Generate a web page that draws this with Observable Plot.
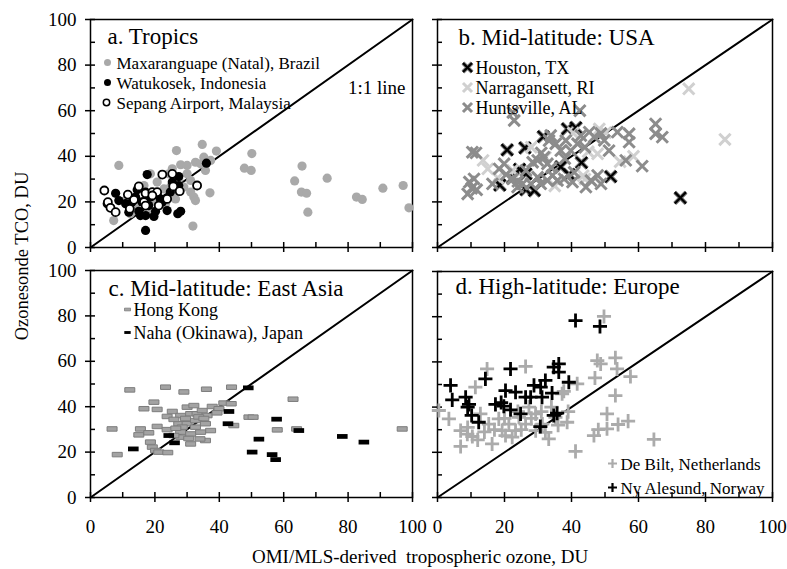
<!DOCTYPE html>
<html>
<head>
<meta charset="utf-8">
<script src="https://cdn.jsdelivr.net/npm/d3@7"></script>
<script src="https://cdn.jsdelivr.net/npm/@observablehq/plot@0.6"></script>
<style>
  body { margin: 0; background: #fff; }
  #fig { position: relative; width: 787px; height: 569px; background: #fff; }
  #fig svg { position: absolute; overflow: visible; }
</style>
</head>
<body>
<div id="fig"></div>
<script>
// Ozonesonde tropospheric column ozone vs OMI/MLS-derived values, DU: [omiMls, sonde]

// a. Tropics
const maxaranguape = [[8.8,36.0],[7.2,11.8],[26.7,42.5],[34.7,45.2],[39.1,42.3],[50.1,41.2],[47.8,34.8],[49.9,33.8],[65.7,35.7],[73.5,30.4],[63.4,29.2],[65.5,24.3],[67.1,23.8],[67.5,15.5],[82.6,22.1],[84.4,21.1],[90.8,26.0],[97.1,27.2],[98.9,17.4],[37.1,24.0],[31.8,9.4],[18.6,32.3],[25.4,34.5],[28.0,36.3],[30.0,36.0],[32.6,37.4],[34.2,36.7],[37.3,38.2],[24.3,32.3],[30.0,32.3],[31.1,29.4],[33.1,27.2],[32.1,22.1],[32.6,20.6],[29.0,26.5],[31.1,24.3],[26.4,21.3],[22.8,25.7],[20.7,28.7],[19.7,20.6],[16.6,27.2],[14.0,18.4],[12.4,14.8],[35.7,33.8],[27.4,30.1],[24.8,26.5],[35.2,39.6],[25.9,23.5],[10.9,20.6],[18.1,14.8],[23.3,19.2]];
const watukosek = [[36.0,37.0],[17.6,32.0],[27.4,31.1],[25.4,28.7],[24.8,24.3],[27.4,27.2],[7.8,23.8],[5.2,19.2],[8.8,20.6],[14.0,22.1],[12.9,20.0],[11.9,15.5],[15.0,15.9],[15.5,14.0],[17.1,14.0],[19.7,13.6],[20.2,15.9],[21.2,18.4],[21.7,21.3],[18.6,22.1],[17.1,24.3],[16.6,20.0],[23.8,16.2],[27.1,14.8],[28.0,15.9],[17.1,7.5],[16.0,20.0],[20.7,23.2],[22.3,20.0],[10.9,19.2],[14.5,25.3],[25.7,27.2],[18.1,18.4]];
const sepang = [[4.3,25.0],[5.4,19.9],[6.2,17.4],[7.8,15.5],[11.6,23.2],[12.2,17.0],[15.0,26.8],[17.1,23.8],[19.2,24.3],[20.7,24.3],[16.6,19.9],[17.1,18.4],[21.2,18.4],[22.3,32.0],[25.4,32.3],[25.7,26.8],[27.7,24.7],[23.8,21.3],[33.1,27.2],[19.2,22.8],[13.5,20.9]];

// b. Mid-latitude: USA
const houston = [[20.8,42.8],[26.1,43.7],[38.8,52.0],[41.3,52.6],[51.7,31.1],[72.5,21.8],[18.6,27.4],[26.4,25.4],[28.9,25.0],[43.0,37.2],[39.3,32.0],[26.4,32.3],[31.6,48.6],[24.5,34.3],[36.8,35.4],[22.5,30.5]];
const narragansett = [[75.0,69.6],[85.8,47.4],[13.6,38.2],[15.0,34.5],[45.0,42.0],[47.8,41.1],[50.2,50.4],[48.3,52.0],[43.5,31.5],[54.5,37.6],[32.2,39.6],[22.4,33.8],[44.0,30.0],[40.5,50.2],[28.0,44.0],[35.0,27.0],[58.5,40.0],[18.0,30.5]];
const huntsville = [[22.5,59.2],[22.9,55.7],[42.5,60.0],[10.4,41.8],[11.5,41.5],[9.5,28.7],[10.9,30.1],[9.0,23.5],[11.7,25.3],[10.2,26.0],[16.4,27.9],[18.4,34.5],[19.9,36.7],[22.4,30.1],[23.9,26.5],[26.4,33.8],[28.4,37.4],[29.9,38.2],[31.8,39.6],[32.8,36.7],[33.3,46.9],[33.8,49.1],[35.3,45.5],[36.8,42.5],[38.3,46.9],[39.8,42.5],[41.8,45.5],[42.8,49.1],[45.3,50.6],[46.8,48.5],[48.8,50.0],[49.8,47.0],[51.2,42.5],[53.7,50.6],[57.2,49.9],[57.2,46.2],[56.2,38.2],[61.1,35.7],[65.1,54.2],[65.1,49.9],[67.1,48.4],[34.3,31.6],[35.8,29.4],[32.8,29.4],[29.9,30.8],[30.8,27.9],[37.8,30.1],[40.3,28.7],[40.8,33.0],[44.3,26.5],[45.8,29.4],[47.8,31.6],[48.8,27.9],[27.9,27.9],[25.4,27.9],[20.5,32.0],[34.0,35.0],[31.0,41.5],[38.0,39.0],[44.0,44.0],[24.0,29.0]];

// c. Mid-latitude: East Asia
const hongKong = [[6.7,30.2],[8.3,18.9],[12.2,47.4],[23.3,48.6],[29.0,46.5],[36.0,47.7],[43.8,48.6],[19.7,42.0],[16.6,39.1],[20.7,38.8],[15.5,30.2],[15.0,27.6],[18.1,28.5],[18.6,24.4],[19.2,22.2],[20.2,20.7],[21.2,20.0],[24.0,19.8],[20.7,31.3],[23.8,35.7],[25.4,37.9],[28.0,36.1],[30.0,39.8],[32.1,40.5],[31.1,36.9],[33.1,36.9],[34.7,38.3],[36.2,36.1],[37.8,40.1],[39.9,39.1],[41.4,41.6],[43.7,41.3],[39.3,37.3],[27.4,32.5],[30.0,32.5],[32.6,31.0],[35.7,32.5],[37.3,29.5],[28.0,28.8],[31.1,28.0],[34.2,28.8],[35.7,25.1],[31.1,23.6],[28.0,26.6],[25.9,27.3],[32.6,33.9],[23.8,29.9],[25.9,34.4],[44.5,31.7],[49.2,35.4],[50.5,35.4],[58.0,29.8],[62.9,43.3],[64.0,30.2],[96.8,30.2],[28.5,31.0],[29.5,34.8],[33.6,35.5],[35.2,34.8],[26.5,30.5],[30.5,26.0],[34.0,25.8]];
const naha = [[49.0,48.3],[43.0,37.9],[42.7,32.5],[57.8,34.5],[52.3,25.7],[50.2,20.0],[56.4,18.9],[57.5,16.7],[64.7,29.5],[78.2,26.9],[84.9,24.4],[13.3,21.4],[24.3,27.3],[26.1,24.1]];

// d. High-latitude: Europe
const deBilt = [[49.7,80.1],[41.2,20.4],[64.6,25.7],[47.7,60.6],[48.7,59.1],[53.1,61.8],[53.6,56.9],[57.6,53.5],[47.0,52.9],[53.1,45.1],[50.6,37.0],[46.7,27.4],[48.0,30.0],[50.6,30.4],[53.9,32.3],[56.9,33.8],[41.7,50.3],[14.8,56.9],[11.3,48.8],[26.3,58.0],[0.4,38.5],[3.4,34.8],[6.9,29.6],[8.9,28.0],[10.4,27.0],[6.9,22.6],[12.8,37.0],[16.3,23.7],[19.3,29.6],[15.3,32.5],[22.3,26.7],[24.3,35.5],[27.3,40.0],[29.3,37.0],[31.3,32.5],[33.2,25.9],[32.2,28.8],[35.2,35.5],[37.2,45.9],[38.7,33.3],[37.7,47.0],[21.3,32.5],[18.3,34.8],[26.3,32.5],[29.3,29.6],[23.3,29.6],[20.3,27.4],[17.0,30.0],[9.0,31.0],[14.0,29.0],[25.0,30.0],[28.0,35.0],[31.0,38.0],[34.0,40.0],[36.0,32.0],[39.0,38.0],[24.0,38.0],[20.0,35.0],[12.0,25.5]];
const nyAlesund = [[41.2,78.3],[48.5,75.7],[3.9,49.6],[4.4,43.2],[8.4,44.4],[9.4,41.2],[10.2,36.3],[12.3,33.3],[14.3,52.5],[21.8,56.9],[20.3,47.3],[23.3,46.6],[17.3,41.2],[19.8,40.4],[21.8,38.8],[24.8,37.0],[26.3,44.4],[27.8,44.4],[28.8,49.6],[30.8,48.8],[32.2,51.8],[34.2,46.2],[31.2,44.4],[34.7,57.7],[36.2,59.1],[36.2,55.5],[39.2,51.0],[30.7,31.4],[34.7,36.3],[35.7,37.3],[9.0,40.0],[19.0,42.0]];

// axis ticks and the 1:1 reference
const majorTicks = [0, 20, 40, 60, 80, 100];
const minorTicks = [10, 30, 50, 70, 90];
const oneToOne = [0, 100];

const FONT = '"Liberation Serif", "Times New Roman", Times, serif';
const fig = document.getElementById("fig");

// flat horizontal dash used for the East Asia stations
const dash = {
  draw(ctx, size) {
    const r = Math.sqrt(size / Math.PI), h = r * 0.45;
    ctx.moveTo(-r, -h); ctx.lineTo(r, -h); ctx.lineTo(r, h); ctx.lineTo(-r, h); ctx.closePath();
  }
};

const px = d => d[0], py = d => d[1];

function axesMarks() {
  const k = {stroke: "#000", strokeWidth: 1.5};
  return [
    Plot.line(oneToOne, {x: d => d, y: d => d, stroke: "#000", strokeWidth: 2}),
    Plot.ruleX(majorTicks, {x: d => d, y1: () => 0, y2: () => 0, insetTop: -5, insetBottom: -5, ...k}),
    Plot.ruleX(minorTicks, {x: d => d, y1: () => 0, y2: () => 0, insetTop: -5, ...k}),
    Plot.ruleY(majorTicks, {y: d => d, x1: () => 0, x2: () => 0, insetLeft: -5, insetRight: -5, ...k}),
    Plot.ruleY(minorTicks, {y: d => d, x1: () => 0, x2: () => 0, insetRight: -5, ...k}),
    Plot.frame({stroke: "#000", strokeWidth: 1.5})
  ];
}

function title(text, dx, dy) {
  return Plot.text([text], {frameAnchor: "top-left", dx, dy, text: d => d, textAnchor: "start",
    lineAnchor: "bottom", fontSize: 23, fill: "#000"});
}

function legendRow(label, anchor, dx, dy, textDx, fontSize, markOpts, extra = []) {
  return [
    ...extra.map(o => Plot.dot([label], {frameAnchor: anchor, dx, dy, ...o})),
    Plot.dot([label], {frameAnchor: anchor, dx, dy, ...markOpts}),
    Plot.text([label], {frameAnchor: anchor, dx: textDx, dy: dy + 1, text: d => d, textAnchor: "start",
      lineAnchor: "middle", fontSize, fill: "#000"})
  ];
}

function panel({left, top, width, height, margin, xLabels, yLabels, marks}) {
  const svg = Plot.plot({
    width, height,
    marginLeft: margin[3], marginRight: margin[1], marginTop: margin[0], marginBottom: margin[2],
    x: {domain: [0, 100], ...(xLabels ? {ticks: 5, tickSize: 0, tickPadding: 22, label: null} : {axis: null})},
    y: {domain: [0, 100], ...(yLabels ? {ticks: 5, tickSize: 0, tickPadding: 14, label: null} : {axis: null})},
    style: {fontFamily: FONT, fontSize: "19px", color: "#000", background: "transparent", overflow: "visible"},
    marks: [...axesMarks(), ...marks]
  });
  svg.style.left = left + "px";
  svg.style.top = top + "px";
  fig.appendChild(svg);
}

const grayA = "#a9a9a9";

// a. Tropics
panel({
  left: 0, top: 0, width: 420, height: 262, margin: [19, 8, 15, 90], xLabels: false, yLabels: true,
  marks: [
    Plot.dot(maxaranguape, {x: px, y: py, r: 4.6, fill: grayA, stroke: "none"}),
    Plot.dot(watukosek, {x: px, y: py, r: 4.6, fill: "#000", stroke: "none"}),
    Plot.dot(sepang, {x: px, y: py, r: 4, fill: "#fff", stroke: "#000", strokeWidth: 1.8}),
    title("a. Tropics", 17, 24),
    ...legendRow("Maxaranguape (Natal), Brazil", "top-left", 17, 43, 26, 17, {r: 3.5, fill: grayA, stroke: "none"}),
    ...legendRow("Watukosek, Indonesia", "top-left", 17, 63, 26, 17, {r: 3.5, fill: "#000", stroke: "none"}),
    ...legendRow("Sepang Airport, Malaysia", "top-left", 16, 83, 26, 17, {r: 3.2, fill: "#fff", stroke: "#000", strokeWidth: 1.5}),
    Plot.text(["1:1 line"], {frameAnchor: "top-right", dx: -7, dy: 74, text: d => d, textAnchor: "end",
      lineAnchor: "bottom", fontSize: 19, fill: "#000"})
  ]
});

// b. Mid-latitude: USA
const xOpts = {symbol: "times", r: 5.2, strokeWidth: 3, fill: "none"};
panel({
  left: 420, top: 0, width: 360, height: 262, margin: [19, 8, 15, 17], xLabels: false, yLabels: false,
  marks: [
    Plot.dot(houston, {x: px, y: py, ...xOpts, stroke: "#7a7a7a", strokeWidth: 4.2}),
    Plot.dot(houston, {x: px, y: py, ...xOpts, stroke: "#000", strokeWidth: 2.2}),
    Plot.dot(narragansett, {x: px, y: py, ...xOpts, stroke: "#d0d0d0"}),
    Plot.dot(huntsville, {x: px, y: py, ...xOpts, stroke: "#8c8c8c"}),
    title("b. Mid-latitude: USA", 21, 25),
    ...legendRow("Houston, TX", "top-left", 30, 48, 38, 18, {...xOpts, r: 4.2, stroke: "#000", strokeWidth: 2.2},
      [{...xOpts, r: 4.2, stroke: "#7a7a7a", strokeWidth: 4}]),
    ...legendRow("Narragansett, RI", "top-left", 30, 68, 38, 18, {...xOpts, r: 4.2, stroke: "#d0d0d0"}),
    ...legendRow("Huntsville, AL", "top-left", 30, 88, 38, 18, {...xOpts, r: 4.2, stroke: "#8c8c8c"})
  ]
});

// c. Mid-latitude: East Asia
panel({
  left: 0, top: 262, width: 420, height: 300, margin: [8, 8, 65, 90], xLabels: true, yLabels: true,
  marks: [
    Plot.dot(hongKong, {x: px, y: py, symbol: dash, r: 5, fill: "#a3a3a3", stroke: "#7d7d7d", strokeWidth: 1}),
    Plot.dot(naha, {x: px, y: py, symbol: dash, r: 5.3, fill: "#000", stroke: "none"}),
    title("c. Mid-latitude: East Asia", 18, 25),
    ...legendRow("Hong Kong", "top-left", 37, 39, 43, 18, {symbol: dash, r: 3, fill: "#a3a3a3", stroke: "#7d7d7d", strokeWidth: 0.8}),
    ...legendRow("Naha (Okinawa), Japan", "top-left", 37, 62, 43, 18, {symbol: dash, r: 3.2, fill: "#000", stroke: "none"})
  ]
});

// d. High-latitude: Europe
const plusOpts = {symbol: "plus", r: 4.6, strokeWidth: 2.8, fill: "none"};
panel({
  left: 420, top: 262, width: 360, height: 300, margin: [9, 8, 65, 17], xLabels: true, yLabels: false,
  marks: [
    Plot.dot(deBilt, {x: px, y: py, ...plusOpts, stroke: "#ababab"}),
    Plot.dot(nyAlesund, {x: px, y: py, ...plusOpts, stroke: "#000"}),
    title("d. High-latitude: Europe", 18, 22),
    ...legendRow("De Bilt, Netherlands", "bottom-right", -160, -34, -152, 17, {...plusOpts, r: 3, strokeWidth: 2.2, stroke: "#ababab"}),
    ...legendRow("Ny Alesund, Norway", "bottom-right", -160, -10, -152, 17, {...plusOpts, r: 3, strokeWidth: 2.2, stroke: "#000"})
  ]
});

// shared axis titles
const titles = d3.create("svg")
  .attr("width", 787).attr("height", 569)
  .style("left", "0px").style("top", "0px")
  .style("pointer-events", "none")
  .attr("font-family", FONT).attr("fill", "#000");
titles.append("text")
  .attr("transform", "translate(28,256) rotate(-90)")
  .attr("text-anchor", "middle")
  .attr("font-size", 18.5)
  .text("Ozonesonde TCO, DU");
titles.append("text")
  .attr("x", 252).attr("y", 563)
  .attr("text-anchor", "start")
  .attr("font-size", 19)
  .attr("xml:space", "preserve")
  .style("white-space", "pre")
  .text("OMI/MLS-derived  tropospheric ozone, DU");
fig.appendChild(titles.node());
</script>
</body>
</html>
